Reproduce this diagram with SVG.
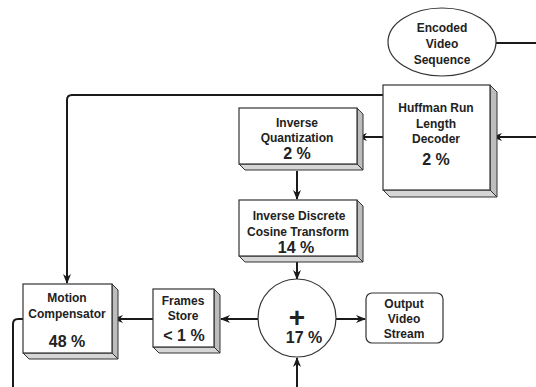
<svg xmlns="http://www.w3.org/2000/svg" width="536" height="387" viewBox="0 0 536 387">
<defs>
<marker id="ah" markerWidth="10" markerHeight="8" refX="9" refY="4" orient="auto" markerUnits="userSpaceOnUse">
<path d="M0,0 L10,4 L0,8 L3,4 Z" fill="#1a1a1a"/>
</marker>
</defs>
<style>
.face{fill:#fff;stroke:#333;stroke-width:1.2}
.side{fill:#bdbdbd;stroke:#333;stroke-width:1}
.bot{fill:#d6d6d6;stroke:#333;stroke-width:1}
.t{font-family:"Liberation Sans",Arial,sans-serif;font-weight:bold;font-size:12px;fill:#222;text-anchor:middle}
.p{font-family:"Liberation Sans",Arial,sans-serif;font-weight:bold;font-size:16px;fill:#222;text-anchor:middle}
.c{fill:none;stroke:#1a1a1a;stroke-width:2}
</style>
<rect width="536" height="387" fill="#fff"/>
<g id="connectors">
<path class="c" d="M496,43 H536"/>
<path class="c" d="M536,137 H493" marker-end="url(#ah)"/>
<path class="c" d="M383,137 H358" marker-end="url(#ah)"/>
<path class="c" d="M383,95 H72 Q67,95 67,100 V283" marker-end="url(#ah)"/>
<path class="c" d="M297,171 V199" marker-end="url(#ah)"/>
<path class="c" d="M297,262 V279" marker-end="url(#ah)"/>
<path class="c" d="M336,319 H365" marker-end="url(#ah)"/>
<path class="c" d="M297,387 V358" marker-end="url(#ah)"/>
<path class="c" d="M258,319 H221" marker-end="url(#ah)"/>
<path class="c" d="M153,319 H114" marker-end="url(#ah)"/>
<path class="c" d="M23,319 H18 Q13,319 13,324 V387"/>
</g>
<g id="encoded">
<ellipse cx="442" cy="42" rx="54" ry="34" fill="#fff" stroke="#333" stroke-width="1.2"/>
<text class="t" x="442" y="31.5">Encoded</text>
<text class="t" x="442" y="47.5">Video</text>
<text class="t" x="442" y="63.5">Sequence</text>
</g>
<g id="huffman">
<polygon class="side" points="490,85 497,92 497,197 490,190"/>
<polygon class="bot" points="383,190 390,197 497,197 490,190"/>
<rect class="face" x="383" y="85" width="107" height="105"/>
<text class="t" x="436" y="112">Huffman Run</text>
<text class="t" x="436" y="127.5">Length</text>
<text class="t" x="436" y="143">Decoder</text>
<text class="p" x="436" y="165">2 %</text>
</g>
<g id="iq">
<polygon class="side" points="357,108 363,114 363,170 357,164"/>
<polygon class="bot" points="239,164 245,170 363,170 357,164"/>
<rect class="face" x="239" y="108" width="118" height="56"/>
<text class="t" x="297" y="127">Inverse</text>
<text class="t" x="297" y="141.5">Quantization</text>
<text class="p" x="297" y="159">2 %</text>
</g>
<g id="idct">
<polygon class="side" points="357,200 363,206 363,262 357,256"/>
<polygon class="bot" points="239,256 245,262 363,262 357,256"/>
<rect class="face" x="239" y="200" width="118" height="56"/>
<text class="t" x="299" y="219.5">Inverse Discrete</text>
<text class="t" x="298" y="236">Cosine Transform</text>
<text class="p" x="296" y="253">14 %</text>
</g>
<g id="adder">
<circle cx="297" cy="318" r="39" fill="#fff" stroke="#333" stroke-width="1.2"/>
<text x="297" y="327" font-family="Liberation Sans, Arial, sans-serif" font-weight="bold" font-size="28" fill="#222" text-anchor="middle">+</text>
<text class="p" x="304" y="343">17 %</text>
</g>
<g id="output">
<rect x="366" y="293" width="77" height="50" rx="6" fill="#fff" stroke="#333" stroke-width="1.2"/>
<text class="t" x="404" y="307.5">Output</text>
<text class="t" x="404" y="323">Video</text>
<text class="t" x="404" y="337.5">Stream</text>
</g>
<g id="frames">
<polygon class="side" points="214,289 220,295 220,353 214,347"/>
<polygon class="bot" points="153,347 159,353 220,353 214,347"/>
<rect class="face" x="153" y="289" width="61" height="58"/>
<text class="t" x="183" y="304.5">Frames</text>
<text class="t" x="183" y="319.5">Store</text>
<text class="p" x="184" y="341">&lt; 1 %</text>
</g>
<g id="motion">
<polygon class="side" points="112,284 118,290 118,359 112,353"/>
<polygon class="bot" points="23,353 29,359 118,359 112,353"/>
<rect class="face" x="23" y="284" width="89" height="69"/>
<text class="t" x="67" y="301.5">Motion</text>
<text class="t" x="67" y="317.5">Compensator</text>
<text class="p" x="67" y="347">48 %</text>
</g>
</svg>
